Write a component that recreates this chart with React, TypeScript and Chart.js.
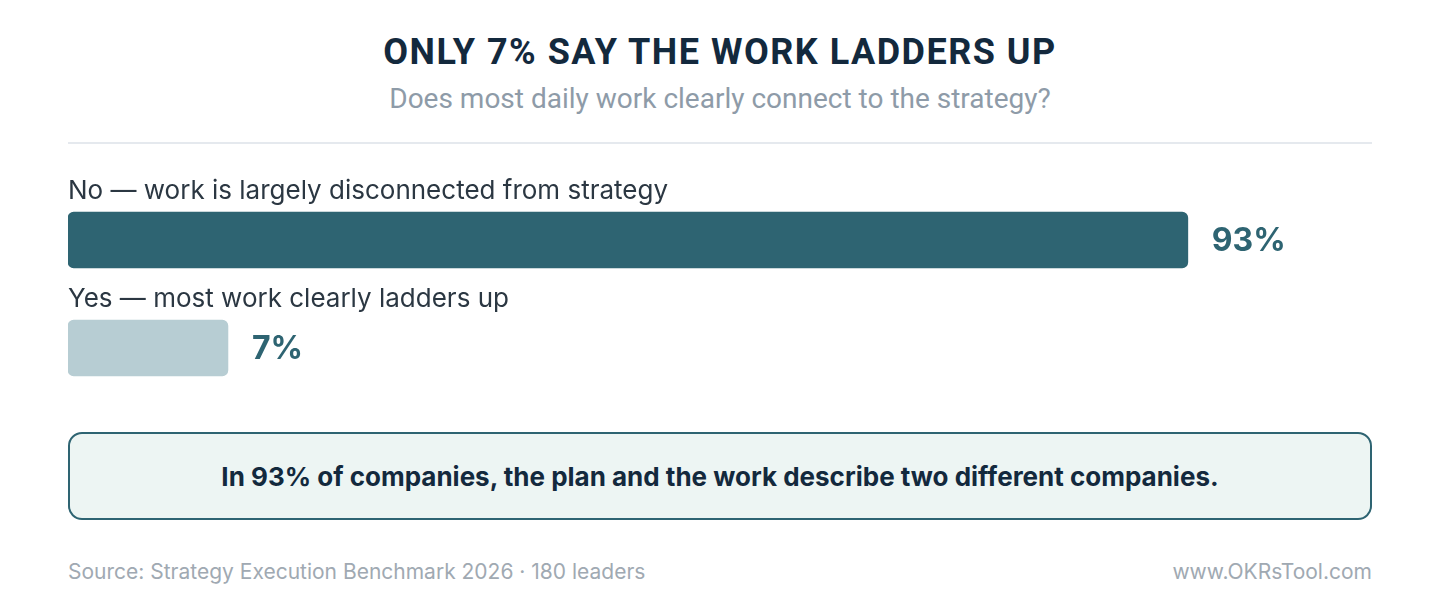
import { useEffect, useRef } from "react";
import { Chart, registerables, type Plugin } from "chart.js";

Chart.register(...registerables);

const TITLE = "ONLY 7% SAY THE WORK LADDERS UP";
const SUBTITLE = "Does most daily work clearly connect to the strategy?";
const CATEGORIES = ["No — work is largely disconnected from strategy", "Yes — most work clearly ladders up"];
const VALUES = [93, 7];
const BAR_COLORS = ["#2e6472", "#b7cdd3"];
const CALLOUT = "In 93% of companies, the plan and the work describe two different companies.";
const SOURCE = "Source: Strategy Execution Benchmark 2026 · 180 leaders";
const SITE = "www.OKRsTool.com";

// The scale starts a little below zero so the small bar keeps a readable length.
const AXIS_MIN = -7.33;
const AXIS_MAX = 109.5;

const TEAL = "#2e6472";
const INK = "#2b3742";

/** Draws the category label above each bar and the value to its right. */
const labelPlugin: Plugin<"bar"> = {
  id: "barLabels",
  afterDatasetsDraw(chart) {
    const ctx = chart.ctx;
    const meta = chart.getDatasetMeta(0);
    ctx.save();
    meta.data.forEach((bar, i) => {
      const { x, y, height } = bar.getProps(["x", "y", "height"], true) as any;
      ctx.textBaseline = "middle";
      ctx.textAlign = "left";
      ctx.font = "400 26px Inter";
      ctx.fillStyle = INK;
      ctx.fillText(CATEGORIES[i], chart.chartArea.left, y - height / 2 - 21);
      ctx.font = "700 32px Inter";
      ctx.fillStyle = TEAL;
      ctx.fillText(`${VALUES[i]}%`, x + 24, y + 1);
    });
    ctx.restore();
  },
};

function BarChart() {
  const canvasRef = useRef<HTMLCanvasElement>(null);
  useEffect(() => {
    const canvas = canvasRef.current;
    if (!canvas) return;
    const chart = new Chart(canvas, {
      type: "bar",
      data: {
        labels: CATEGORIES,
        datasets: [
          {
            data: VALUES,
            backgroundColor: BAR_COLORS,
            base: AXIS_MIN,
            barThickness: 56,
            borderRadius: 6,
            borderSkipped: false,
          },
        ],
      },
      options: {
        indexAxis: "y",
        animation: false,
        responsive: true,
        maintainAspectRatio: false,
        layout: { padding: { top: 26, bottom: 8, left: 0, right: 0 } },
        scales: {
          x: { display: false, min: AXIS_MIN, max: AXIS_MAX },
          y: { display: false },
        },
        plugins: { legend: { display: false }, tooltip: { enabled: false } },
      },
      plugins: [labelPlugin],
    });
    return () => chart.destroy();
  }, []);
  return (
    <div style={{ position: "absolute", left: 68, top: 160, width: 1304, height: 250 }}>
      <canvas ref={canvasRef} />
    </div>
  );
}

export default function App() {
  return (
    <div
      style={{
        position: "fixed",
        left: 0,
        top: 0,
        width: 1440,
        height: 600,
        background: "#ffffff",
        fontFamily: "Inter, sans-serif",
        overflow: "hidden",
      }}
    >
      <div
        style={{
          position: "absolute",
          top: 29,
          left: 0,
          width: 1440,
          textAlign: "center",
          font: "700 36px Roboto",
          lineHeight: "46px",
          color: "#13293d",
          letterSpacing: 1.5,
        }}
      >
        {TITLE}
      </div>
      <div
        style={{
          position: "absolute",
          top: 81,
          left: 0,
          width: 1440,
          textAlign: "center",
          font: "400 28px Roboto",
          lineHeight: "36px",
          color: "#8e9ba8",
        }}
      >
        {SUBTITLE}
      </div>
      <div style={{ position: "absolute", top: 142, left: 68, width: 1304, height: 2, background: "#e5e9ee" }} />
      <BarChart />
      <div
        style={{
          position: "absolute",
          top: 432,
          left: 68,
          width: 1304,
          height: 88,
          boxSizing: "border-box",
          border: `2px solid ${TEAL}`,
          borderRadius: 14,
          background: "#edf5f3",
          display: "flex",
          alignItems: "center",
          justifyContent: "center",
          font: "700 26px Inter",
          color: "#13293d",
        }}
      >
        {CALLOUT}
      </div>
      <div style={{ position: "absolute", top: 559, left: 68, font: "400 21px Inter", lineHeight: "26px", color: "#a0a9b2" }}>
        {SOURCE}
      </div>
      <div
        style={{
          position: "absolute",
          top: 559,
          right: 68,
          font: "400 21px Inter",
          lineHeight: "26px",
          color: "#a0a9b2",
        }}
      >
        {SITE}
      </div>
    </div>
  );
}
